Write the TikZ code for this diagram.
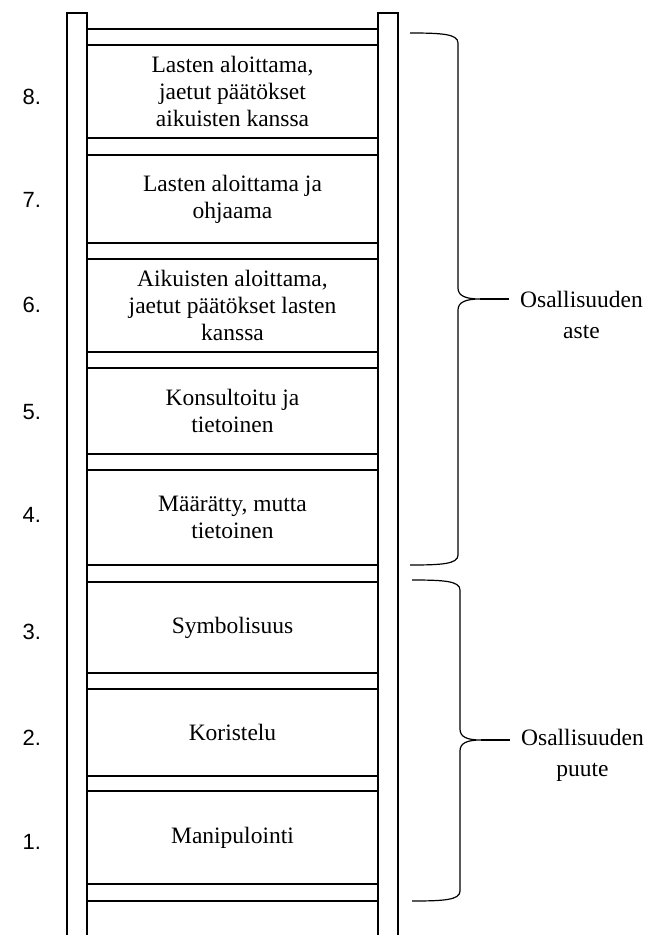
\documentclass[tikz,border=0pt]{standalone}
\usepackage{fontspec}
\setmainfont{Liberation Serif}
\setsansfont{Liberation Sans}

\begin{document}
\begin{tikzpicture}
  [x=1pt,y=-1pt,line width=1.2pt,
   box/.style={draw, minimum width=291pt, inner sep=0pt, outer sep=0pt, align=center,
     font=\fontsize{23.5}{27}\selectfont},
   num/.style={anchor=west, inner sep=0pt, font=\sffamily\fontsize{22}{26}\selectfont},
   side/.style={align=center, inner xsep=11pt, inner ysep=0pt,
     font=\fontsize{23.5}{31}\selectfont},
   stub/.style={line width=2pt}]
  \useasboundingbox (0,0) rectangle (649,935);

  % rails of the ladder
  \draw (67,945) -- (67,13) -- (87,13) -- (87,945);
  \draw (378,945) -- (378,13) -- (398,13) -- (398,945);
  \draw (87,29) -- (378,29);
  \draw (87,901) -- (378,901);

  \node[box, minimum height=93pt] (b8) at (232.5,91.5) {Lasten aloittama,\\jaetut päätökset\\aikuisten kanssa};
  \node[box, minimum height=88pt] (b7) at (232.5,199) {Lasten aloittama ja\\ohjaama};
  \node[box, minimum height=93pt] (b6) at (232.5,305.5) {Aikuisten aloittama,\\jaetut päätökset lasten\\kanssa};
  \node[box, minimum height=86pt] (b5) at (232.5,411) {Konsultoitu ja\\tietoinen};
  \node[box, minimum height=95pt] (b4) at (232.5,517.5) {Määrätty, mutta\\tietoinen};
  \node[box, minimum height=91pt] (b3) at (232.5,627.5) {Symbolisuus};
  \node[box, minimum height=87pt] (b2) at (232.5,732.5) {Koristelu};
  \node[box, minimum height=93pt] (b1) at (232.5,837.5) {Manipulointi};

  \node[num] (n8) at (22,97) {8.};
  \node[num] (n7) at (22,200) {7.};
  \node[num] (n6) at (22,305) {6.};
  \node[num] (n5) at (22,412) {5.};
  \node[num] (n4) at (22,515) {4.};
  \node[num] (n3) at (22,632) {3.};
  \node[num] (n2) at (22,738) {2.};
  \node[num] (n1) at (22,842) {1.};

  % braces
  \coordinate (tip1) at (480,299);
  \coordinate (tip2) at (481,740);
  \draw (410,33) .. controls (442,33) and (458,34) .. (458,43)
    -- (458,288) .. controls (458,296) and (466,299) .. (tip1)
    .. controls (466,299) and (458,302) .. (458,310)
    -- (458,555) .. controls (458,564) and (442,565) .. (410,565);
  \draw (412,580) .. controls (444,580) and (460,581) .. (460,590)
    -- (460,729) .. controls (460,737) and (467,740) .. (tip2)
    .. controls (467,740) and (460,743) .. (460,751)
    -- (460,891) .. controls (460,900) and (444,901) .. (412,901);

  \node[side] (s1) at (581.5,315) {Osallisuuden\\aste};
  \node[side] (s2) at (582.5,755) {Osallisuuden\\puute};
  \draw[stub] (tip1) -- (tip1 -| s1.west);
  \draw[stub] (tip2) -- (tip2 -| s2.west);
\end{tikzpicture}
\end{document}
